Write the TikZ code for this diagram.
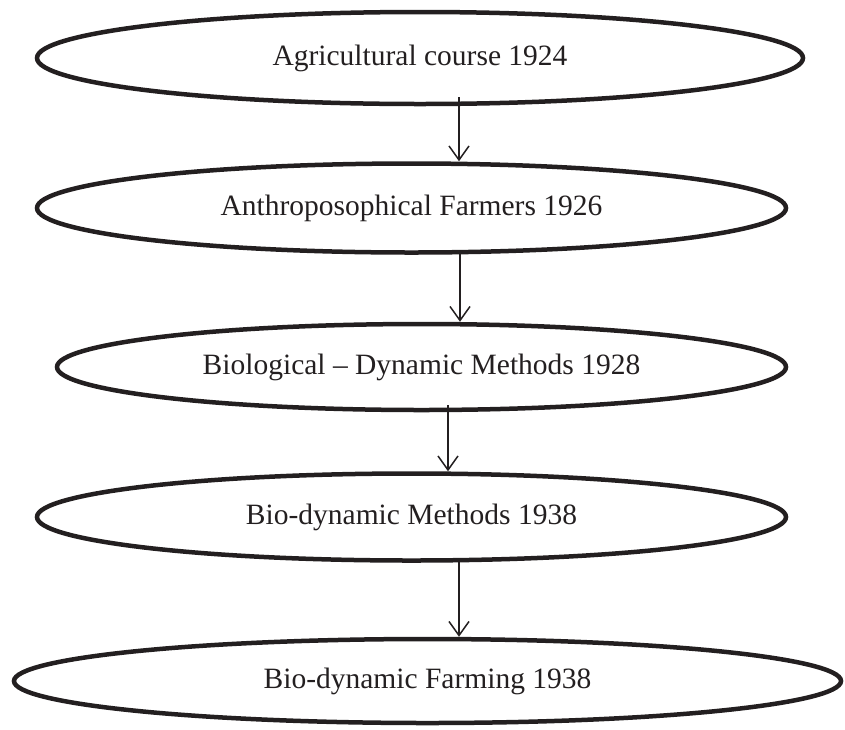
\documentclass[tikz,border=0pt]{standalone}
\usepackage{fontspec}
\setmainfont{Liberation Serif}
\usetikzlibrary{shapes.geometric,arrows.meta}
\definecolor{ink}{HTML}{231F20}
\tikzset{
  oval/.style={ellipse, draw=ink, line width=4.5pt, inner sep=0pt, text=ink,
    font=\fontsize{29.5}{33}\selectfont},
  arr/.style={draw=ink, line width=1.5pt, -{Straight Barb[length=14pt,width=20pt,line width=1.5pt]}}
}
\begin{document}
\begin{tikzpicture}[x=1pt,y=-1pt]
\useasboundingbox (0,0) rectangle (845,729);
\node[oval, minimum width=766pt, minimum height=92pt] (e1) at (420,58) {Agricultural course 1924};
\node[oval, minimum width=749pt, minimum height=89pt] (e2) at (411.5,208) {Anthroposophical Farmers 1926};
\node[oval, minimum width=729pt, minimum height=86pt] (e3) at (421.5,367) {Biological -- Dynamic Methods 1928};
\node[oval, minimum width=749pt, minimum height=87pt] (e4) at (411.5,517) {Bio-dynamic Methods 1938};
\node[oval, minimum width=827pt, minimum height=84pt] (e5) at (427.5,681) {Bio-dynamic Farming 1938};
\coordinate (s1) at (459,97);
\coordinate (s2) at (460,250);
\coordinate (s3) at (448,405);
\coordinate (s4) at (459,560);
\draw[arr] (s1) -- (s1 |- e2.north);
\draw[arr] (s2) -- (s2 |- e3.north);
\draw[arr] (s3) -- (s3 |- e4.north);
\draw[arr] (s4) -- (s4 |- e5.north);
\end{tikzpicture}
\end{document}
